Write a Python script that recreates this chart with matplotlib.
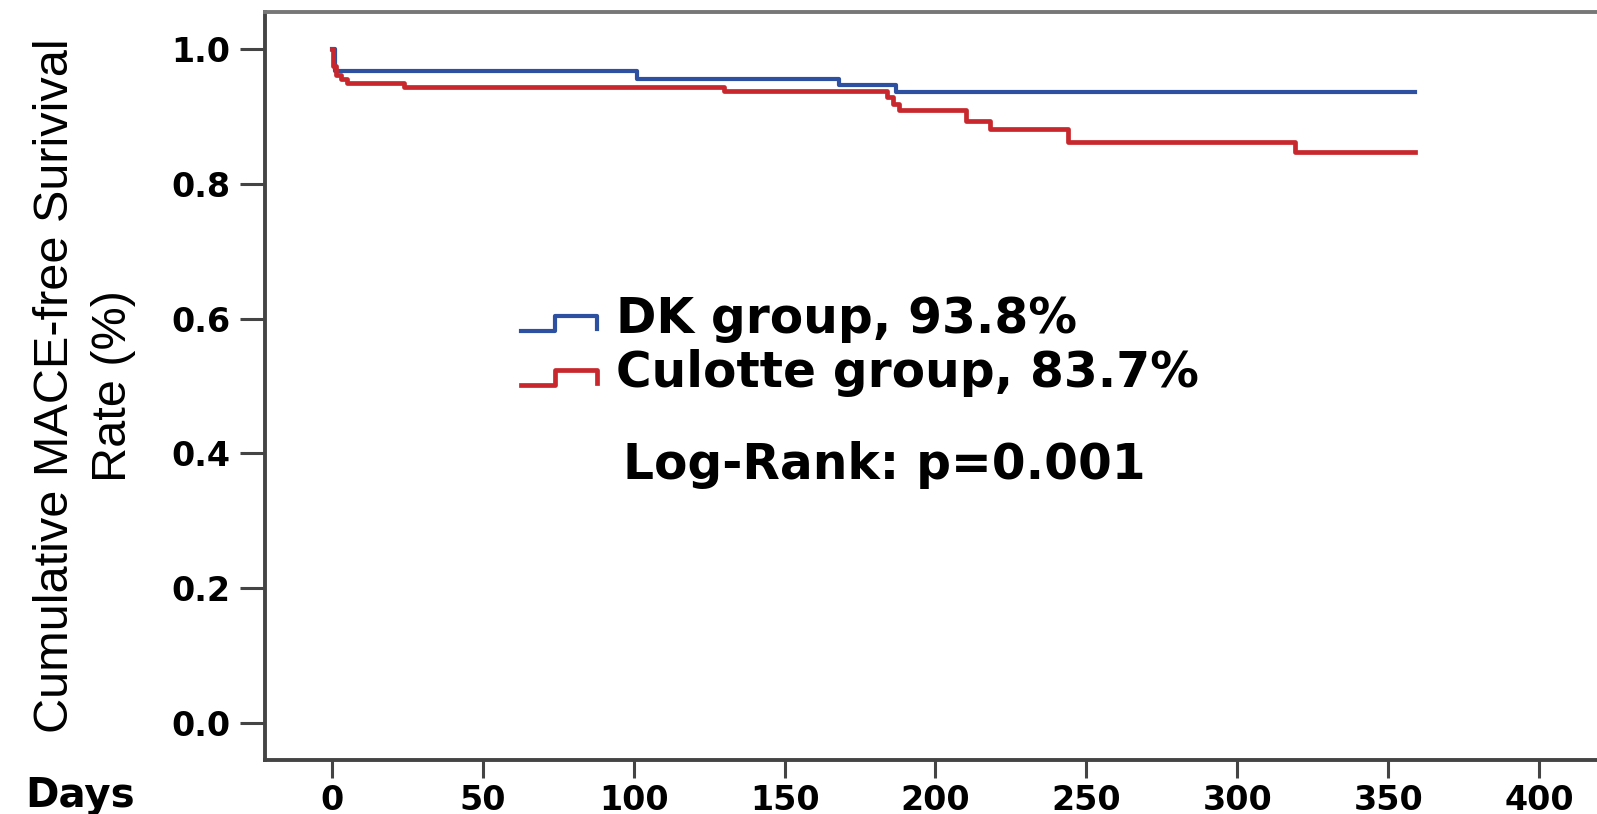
import numpy as np
import matplotlib
matplotlib.use("Agg")
import matplotlib.pyplot as plt
from matplotlib.legend_handler import HandlerBase
from matplotlib.lines import Line2D

# Kaplan-Meier steps (days, survival)
dk_days = [0, 1, 101, 168, 187, 359]
dk_surv = [1.0, 0.967, 0.956, 0.947, 0.937, 0.937]

culotte_days = [0, 0.5, 1.5, 3, 5, 24, 130, 184, 186, 188, 210, 218, 244, 319, 359]
culotte_surv = [1.0, 0.975, 0.962, 0.955, 0.949, 0.943, 0.938, 0.929, 0.919,
                0.909, 0.893, 0.881, 0.862, 0.847, 0.847]

group_labels = ["DK group, 93.8%", "Culotte group, 83.7%"]
x_ticks = [0, 50, 100, 150, 200, 250, 300, 350, 400]
y_ticks = [0.0, 0.2, 0.4, 0.6, 0.8, 1.0]
logrank_text = "Log-Rank: p=0.001"

blue = '#2d50a0'
red = '#c8282d'
axis_grey = '#444444'


class StepHandler(HandlerBase):
    # little KM-style step glyph for the legend
    def create_artists(self, legend, orig_handle, xdescent, ydescent,
                       width, height, fontsize, trans):
        fx = [0, 0.45, 0.45, 1.0, 1.0]
        fy = [0.05, 0.05, 0.5, 0.5, 0.12]
        xs = [-xdescent + f * width for f in fx]
        ys = [-ydescent + f * height for f in fy]
        line = Line2D(xs, ys, color=orig_handle.get_color(),
                      lw=orig_handle.get_linewidth(), transform=trans)
        return [line]


fig = plt.figure(figsize=(15.97, 8.14), dpi=100)
ax = fig.add_axes([0.1659, 0.0663, 0.8341, 0.9189])

l1, = ax.step(dk_days, dk_surv, where='post', color=blue, lw=3.0)
l2, = ax.step(culotte_days, culotte_surv, where='post', color=red, lw=3.4)

ax.set_xlim(-22.2, 419.2)
ax.set_ylim(-0.0549, 1.0549)
ax.set_xticks(x_ticks)
ax.set_yticks(y_ticks)
ax.set_xticklabels([str(t) for t in x_ticks])
ax.set_yticklabels(['%.1f' % t for t in y_ticks])

for s in ['left', 'bottom', 'top']:
    ax.spines[s].set_color(axis_grey)
    ax.spines[s].set_linewidth(2.8)
ax.spines['top'].set_color('#777777')
ax.spines['right'].set_visible(False)

ax.tick_params(axis='y', length=18, width=2.2, color=axis_grey, pad=7,
               labelsize=24)
ax.tick_params(axis='x', length=13, width=2.2, color=axis_grey, pad=4,
               labelsize=24)
for lab in ax.get_xticklabels() + ax.get_yticklabels():
    lab.set_fontweight('bold')
    lab.set_family('DejaVu Sans')

ax.set_ylabel("Cumulative MACE-free Surivival\nRate (%)",
              family='Liberation Sans', fontsize=35, linespacing=1.36)
ax.yaxis.set_label_coords(-0.097, 0.5)

leg = ax.legend([l1, l2], group_labels, loc='upper left',
                bbox_to_anchor=(0.1925, 0.622), frameon=False,
                borderpad=0, borderaxespad=0, handlelength=1.55,
                handletextpad=0.4, labelspacing=0.13,
                handler_map={Line2D: StepHandler()},
                prop={'family': 'DejaVu Sans', 'weight': 'bold', 'size': 35})

ax.text(96.4, 0.383, logrank_text, fontsize=35, fontweight='bold',
        family='DejaVu Sans', va='center', ha='left')

fig.text(25 / 1597, 0.0215, "Days", fontsize=29, fontweight='bold',
         family='DejaVu Sans', va='center', ha='left')

fig.savefig('out.png', dpi=100)
